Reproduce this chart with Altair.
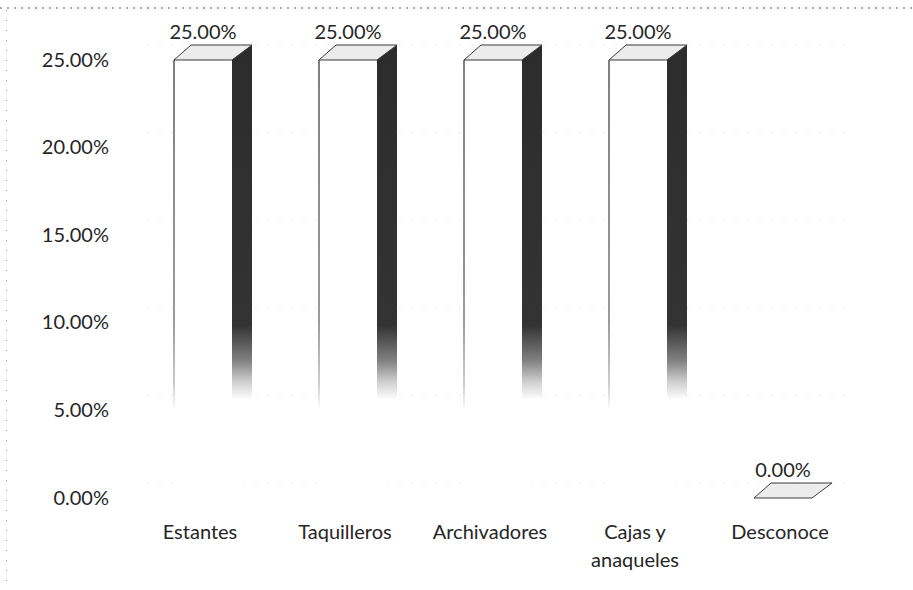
import altair as alt
import pandas as pd

# Storage furniture used, share of responses
categorias = ["Estantes", "Taquilleros", "Archivadores", "Cajas y\nanaqueles", "Desconoce"]
porcentajes = [0.25, 0.25, 0.25, 0.25, 0.0]
marcas_eje = [0.0, 0.05, 0.10, 0.15, 0.20, 0.25]

df = pd.DataFrame({"categoria": categorias, "valor": porcentajes})
df_grid = pd.DataFrame({"valor": marcas_eje})

FONT = "Lato"
TEXT = "#262626"

x_enc = alt.X(
    "categoria:N",
    sort=categorias,
    scale=alt.Scale(paddingInner=0, paddingOuter=0),
    axis=alt.Axis(
        title=None, ticks=False, domain=False, grid=False, labelAngle=0,
        labelFont=FONT, labelFontSize=20, labelColor=TEXT, labelPadding=24,
        labelOffset=-3, labelLineHeight=28,
        labelExpr="split(datum.label, '\\n')",
    ),
)
y_enc = alt.Y(
    "valor:Q",
    scale=alt.Scale(domain=[0, 0.25], nice=False),
    axis=alt.Axis(
        title=None, values=marcas_eje, format=".2%", ticks=False, domain=False,
        grid=False, labelFont=FONT, labelFontSize=20, labelColor=TEXT,
        labelPadding=22,
    ),
)

# faint dotted gridlines on the back wall of the 3-D plot
grid = alt.Chart(df_grid).mark_rule(
    color="#d2d2d2", strokeWidth=1, strokeDash=[1, 11], yOffset=-15
).encode(
    y=alt.Y("valor:Q", scale=alt.Scale(domain=[0, 0.25], nice=False)),
    x=alt.value(17), x2=alt.value(725),
)

# dotted outer frame of the chart area
frame_top = alt.Chart(df_grid).mark_rule(
    color="#9a9a9a", strokeWidth=1, strokeDash=[1, 6]
).encode(x=alt.value(-130), x2=alt.value(782), y=alt.value(-52))
frame_left = alt.Chart(df_grid).mark_rule(
    color="#9a9a9a", strokeWidth=1, strokeDash=[1, 9]
).encode(x=alt.value(-124), y=alt.value(-50), y2=alt.value(530))

side_fill = alt.Gradient(
    gradient="linear", x1=0, x2=0, y1=0, y2=1,
    stops=[
        alt.GradientStop(color="#2c2c2c", offset=0),
        alt.GradientStop(color="#333333", offset=0.64),
        alt.GradientStop(color="#808080", offset=0.72),
        alt.GradientStop(color="#d0d0d0", offset=0.77),
        alt.GradientStop(color="#ffffff", offset=0.81),
        alt.GradientStop(color="#ffffff", offset=1),
    ],
)
edge_fill = alt.Gradient(
    gradient="linear", x1=0, x2=0, y1=0, y2=1,
    stops=[
        alt.GradientStop(color="#555555", offset=0),
        alt.GradientStop(color="#7a7a7a", offset=0.6),
        alt.GradientStop(color="#bdbdbd", offset=0.74),
        alt.GradientStop(color="#ffffff", offset=0.8),
        alt.GradientStop(color="#ffffff", offset=1),
    ],
)

base = alt.Chart(df).encode(x=x_enc, y=y_enc)

side = base.mark_bar(
    width=20, xOffset=39, yOffset=-15, y2Offset=-15, fill=side_fill
)
front = base.mark_bar(width=58, fill="#ffffff")
edge = base.mark_bar(width=1.5, xOffset=-29, fill=edge_fill)

# top face of each column: a parallelogram symbol
top_shape = "M -1 0.192 L -0.564 -0.192 L 1 -0.192 L 0.487 0.192 Z"
top = base.mark_point(
    shape=top_shape, size=6084, filled=True, fill="#ececec", stroke="#3a3a3a",
    strokeWidth=1, opacity=1, xOffset=10, yOffset=-7.5,
)

labels = base.mark_text(
    font=FONT, fontSize=20, color=TEXT, dy=-27, baseline="middle"
).encode(text=alt.Text("valor:Q", format=".2%"))

chart = alt.layer(grid, frame_top, frame_left, side, front, edge, top, labels).properties(
    width=725,
    height=438,
    background="#ffffff",
    autosize=alt.AutoSizeParams(type="none"),
    padding={"left": 130.5, "top": 60, "right": 57.5, "bottom": 92},
).configure_view(strokeWidth=0)

chart.save("out.html", embed_options={"renderer": "svg", "actions": False})
